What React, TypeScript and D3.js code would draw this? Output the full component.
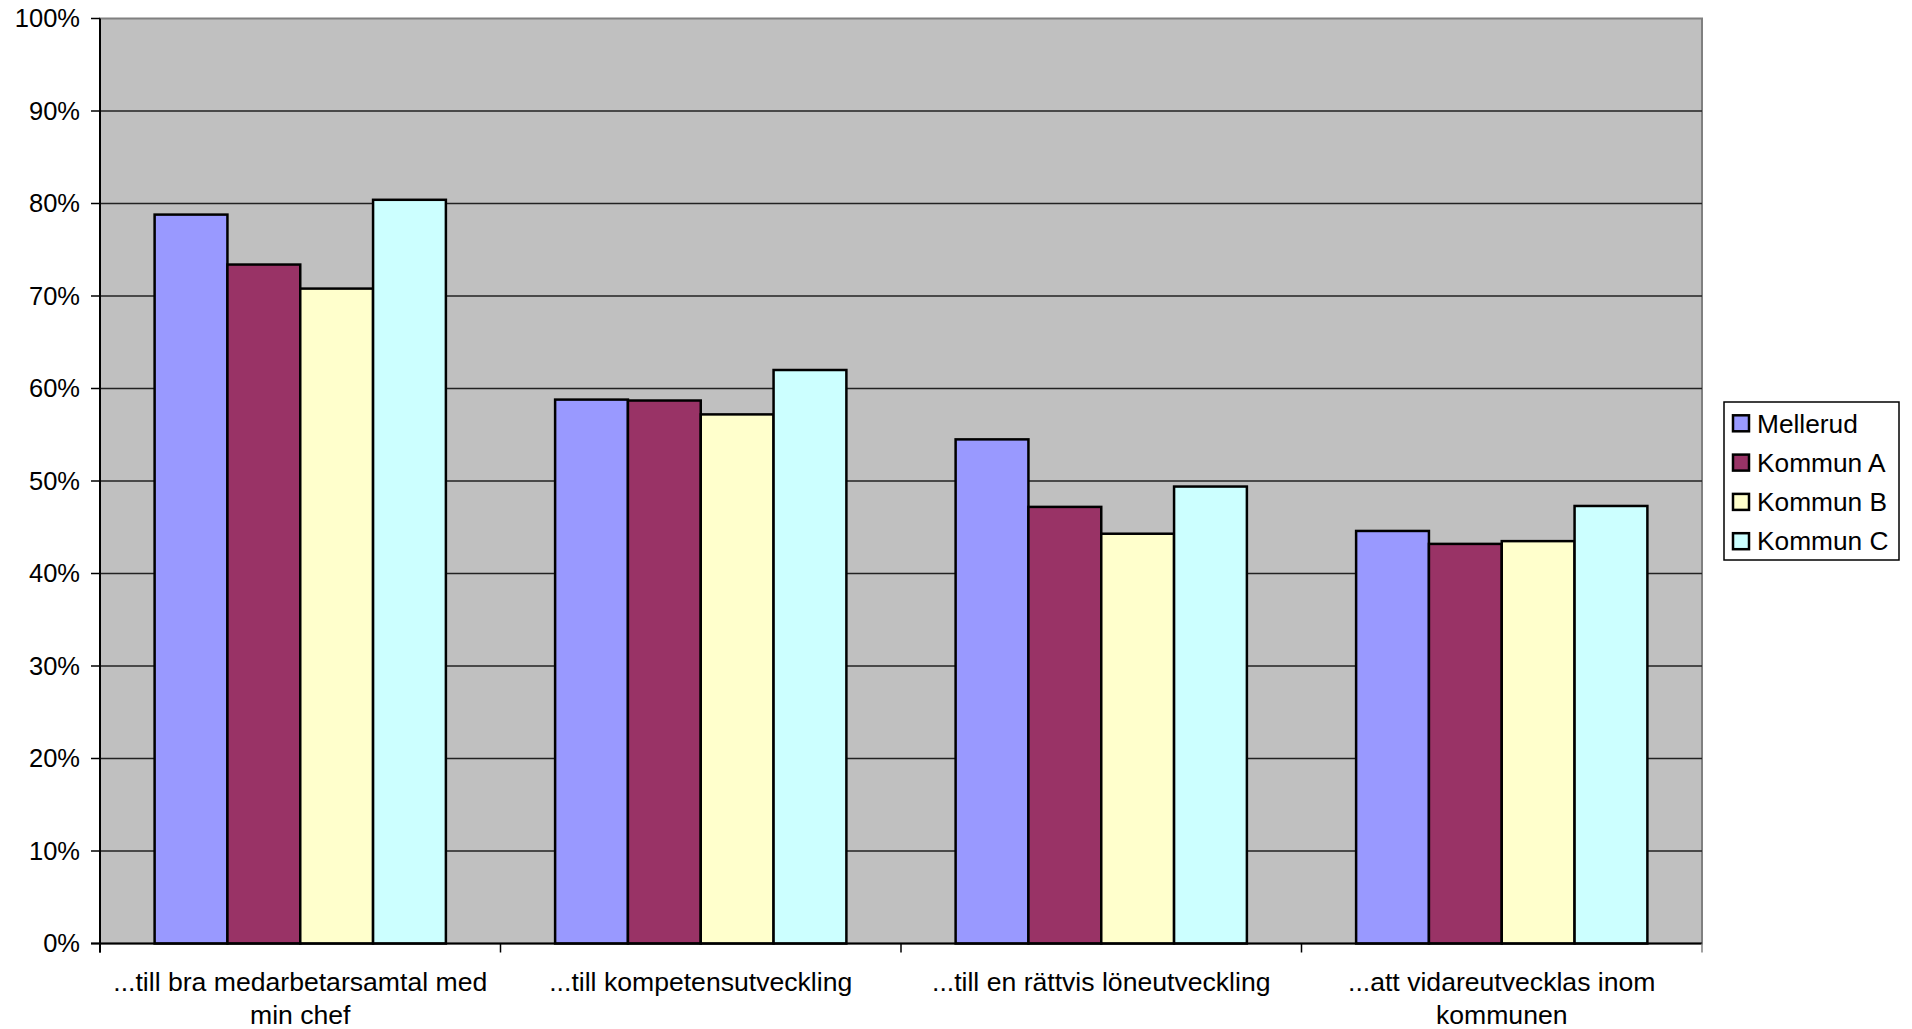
import React from "react";
import * as d3 from "d3";

const categories: string[][] = [
  ["...till bra medarbetarsamtal med", "min chef"],
  ["...till kompetensutveckling"],
  ["...till en rättvis löneutveckling"],
  ["...att vidareutvecklas inom", "kommunen"],
];
const seriesNames = ["Mellerud", "Kommun A", "Kommun B", "Kommun C"];
const seriesColors = ["#9999FF", "#993366", "#FFFFCC", "#CCFFFF"];
const mellerud = [0.788, 0.588, 0.545, 0.446];
const kommunA = [0.734, 0.587, 0.472, 0.432];
const kommunB = [0.708, 0.572, 0.443, 0.435];
const kommunC = [0.804, 0.62, 0.494, 0.473];
const seriesValues = [mellerud, kommunA, kommunB, kommunC];
const yTicks = [0, 0.1, 0.2, 0.3, 0.4, 0.5, 0.6, 0.7, 0.8, 0.9, 1.0];

const W = 1912;
const H = 1029;
const plot = { left: 100, right: 1702, top: 18.5, bottom: 943.5 };
const FONT = "'Liberation Sans', Arial, sans-serif";

export default function App() {
  const y = d3.scaleLinear().domain([0, 1]).range([plot.bottom, plot.top]);
  const x0 = d3
    .scaleBand<number>()
    .domain(categories.map((_, i) => i))
    .range([plot.left, plot.right])
    .paddingInner(0)
    .paddingOuter(0);
  const bw = x0.bandwidth();
  const barW = bw / 5.5;
  const x1 = d3
    .scaleBand<number>()
    .domain(seriesNames.map((_, i) => i))
    .range([0.75 * barW, bw - 0.75 * barW]);
  const fmt = d3.format(".0%");
  const boundaries = categories.map((_, i) => x0(i) as number).concat([plot.right]);

  return (
    <svg
      width={W}
      height={H}
      style={{ position: "absolute", left: 0, top: 0, display: "block", background: "#fff" }}
      fontFamily={FONT}
    >
      <rect
        x={plot.left}
        y={plot.top}
        width={plot.right - plot.left}
        height={plot.bottom - plot.top}
        fill="#C0C0C0"
        stroke="#808080"
        strokeWidth={2}
      />
      {yTicks.slice(1, -1).map((t) => (
        <line key={t} x1={plot.left} x2={plot.right} y1={y(t)} y2={y(t)} stroke="#222" strokeWidth={1.5} />
      ))}
      {categories.map((_, ci) =>
        seriesValues.map((vals, si) => {
          const bx = (x0(ci) as number) + (x1(si) as number);
          return (
            <rect
              key={`${ci}-${si}`}
              x={bx}
              y={y(vals[ci])}
              width={x1.bandwidth()}
              height={y(0) - y(vals[ci])}
              fill={seriesColors[si]}
              stroke="#000"
              strokeWidth={2.5}
            />
          );
        })
      )}
      {/* y axis */}
      <line x1={plot.left} x2={plot.left} y1={plot.top} y2={plot.bottom + 9} stroke="#000" strokeWidth={2} />
      {yTicks.map((t) => (
        <g key={t}>
          <line x1={plot.left - 9} x2={plot.left} y1={y(t)} y2={y(t)} stroke="#000" strokeWidth={1.5} />
          <text x={80} y={y(t)} dy="0.35em" textAnchor="end" fontSize={25.5} fill="#000">
            {fmt(t)}
          </text>
        </g>
      ))}
      {/* x axis */}
      <line x1={plot.left - 9} x2={plot.right} y1={plot.bottom} y2={plot.bottom} stroke="#000" strokeWidth={2} />
      {boundaries.map((b, i) => (
        <line key={i} x1={b} x2={b} y1={plot.bottom} y2={plot.bottom + 9} stroke={i === boundaries.length - 1 ? "#808080" : "#000"} strokeWidth={1.5} />
      ))}
      {categories.map((lines, ci) => (
        <text key={ci} x={(x0(ci) as number) + bw / 2} y={990.5} textAnchor="middle" fontSize={26.6} fill="#000">
          {lines.map((l, li) => (
            <tspan key={li} x={(x0(ci) as number) + bw / 2} dy={li === 0 ? 0 : 33}>
              {l}
            </tspan>
          ))}
        </text>
      ))}
      {/* legend */}
      <rect x={1724} y={402} width={175} height={158} fill="#fff" stroke="#000" strokeWidth={1.5} />
      {seriesNames.map((n, i) => {
        const cy = 423.3 + i * 39.3;
        return (
          <g key={n}>
            <rect x={1733} y={cy - 8} width={16} height={16} fill={seriesColors[i]} stroke="#000" strokeWidth={2.5} />
            <text x={1757} y={cy} dy="0.35em" fontSize={26.3} fill="#000">
              {n}
            </text>
          </g>
        );
      })}
    </svg>
  );
}
